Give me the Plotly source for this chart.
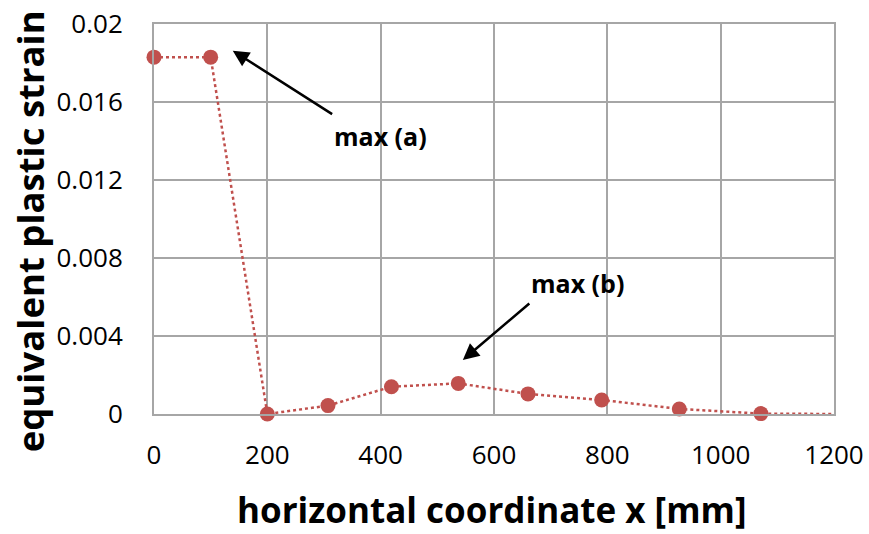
import plotly.graph_objects as go

x_vals = [0, 100, 200, 307, 419, 537, 660, 790, 927, 1071, 1200]
strain = [0.0183, 0.0183, 0.0, 0.00043, 0.0014, 0.00157, 0.00103, 0.00072, 0.00026, 0.00002, 0.0]
n_markers = 10  # last point (1200) is line-only

x_ticks = [0, 200, 400, 600, 800, 1000, 1200]
y_ticks = [0, 0.004, 0.008, 0.012, 0.016, 0.02]
y_tick_text = ["0", "0.004", "0.008", "0.012", "0.016", "0.02"]

x_title = "horizontal coordinate x [mm]"
y_title = "equivalent plastic strain"

red = "#c0504d"
grid = "#a6a6a6"
font_family = "Open Sans"

fig = go.Figure()
fig.add_trace(go.Scatter(
    x=x_vals, y=strain, mode="lines",
    line=dict(color=red, width=2.5, dash="dot"),
    showlegend=False, cliponaxis=False,
))
fig.add_trace(go.Scatter(
    x=x_vals[:n_markers], y=strain[:n_markers], mode="markers",
    marker=dict(color=red, size=15, opacity=1, line=dict(width=0)),
    showlegend=False, cliponaxis=False,
))

fig.update_layout(
    width=869, height=534,
    margin=dict(l=154, r=35, t=24, b=120),
    plot_bgcolor="white", paper_bgcolor="white",
    font=dict(family=font_family, color="black"),
    xaxis=dict(
        range=[0, 1200], tickvals=x_ticks, showgrid=True, gridcolor=grid, gridwidth=2,
        zeroline=False, showline=True, mirror=True, linecolor=grid, linewidth=2, automargin=False,
        tickfont=dict(size=26), ticklabelstandoff=17, ticklabeloverflow="allow",
    ),
    yaxis=dict(
        range=[0, 0.02], tickvals=y_ticks, ticktext=y_tick_text, showgrid=True, gridcolor=grid, gridwidth=2,
        zeroline=False, showline=True, mirror=True, linecolor=grid, linewidth=2, automargin=False,
        tickfont=dict(size=26), ticklabelstandoff=24, ticklabeloverflow="allow",
    ),
)

# axis titles
fig.add_annotation(x=0.497, y=-0.245, xref="paper", yref="paper", showarrow=False,
                   text=f"<b>{x_title}</b>", font=dict(size=35), xanchor="center", yanchor="middle")
fig.add_annotation(x=-0.182, y=0.469, xref="paper", yref="paper", showarrow=False, textangle=-90,
                   text=f"<b>{y_title}</b>", font=dict(size=36.5), xanchor="center", yanchor="middle")

fig.add_annotation(x=139, y=0.01863, ax=317, ay=0.01533, xref="x", yref="y", axref="x", ayref="y",
                   showarrow=True, arrowhead=2, arrowsize=1.3, arrowwidth=2.5, arrowcolor="black", text="")
fig.add_annotation(x=545, y=0.00277, ax=665, ay=0.00573, xref="x", yref="y", axref="x", ayref="y",
                   showarrow=True, arrowhead=2, arrowsize=1.3, arrowwidth=2.5, arrowcolor="black", text="")
fig.add_annotation(x=400, y=0.01426, xref="x", yref="y", showarrow=False,
                   text="<b>max (a)</b>", font=dict(size=25))
fig.add_annotation(x=747, y=0.00672, xref="x", yref="y", showarrow=False,
                   text="<b>max (b)</b>", font=dict(size=25))

fig.write_html("out.html", config={"displayModeBar": False},
               post_script="document.body.style.margin='0';document.body.style.overflow='hidden';")
